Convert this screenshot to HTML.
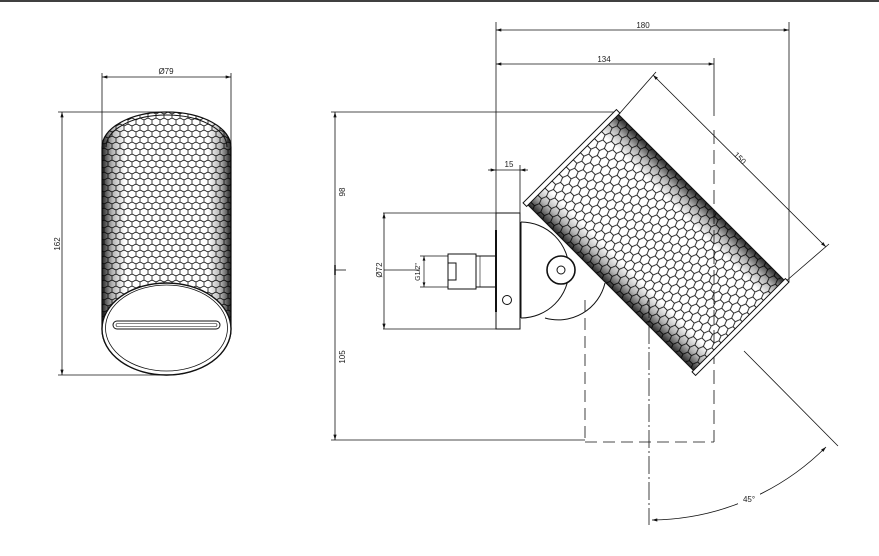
<!DOCTYPE html>
<html><head><meta charset="utf-8"><style>
html,body{margin:0;padding:0;background:#fff;}
svg{display:block;}
text{font-family:"Liberation Sans",sans-serif;font-size:8px;fill:#222;}
</style></head><body>
<svg width="879" height="556" viewBox="0 0 879 556" xmlns="http://www.w3.org/2000/svg">
<defs>
<pattern id="hexL" width="8" height="12" patternUnits="userSpaceOnUse">
<path d="M0,0 L4,-2 L8,0 M0,0 V4 L4,6 L8,4 V0 M4,6 V10 L0,12 M4,10 L8,12" fill="none" stroke="#111" stroke-width="0.8"/>
</pattern>
<pattern id="hexR" width="10" height="14" patternUnits="userSpaceOnUse" patternTransform="rotate(90)">
<path d="M0,0 L5,-2 L10,0 M0,0 V5 L5,7 L10,5 V0 M5,7 V12 L0,14 M5,12 L10,14" fill="none" stroke="#111" stroke-width="0.9"/>
</pattern>
<linearGradient id="edgeL" x1="0" y1="0" x2="1" y2="0">
<stop offset="0" stop-color="#000" stop-opacity="0.85"/>
<stop offset="0.08" stop-color="#000" stop-opacity="0.3"/>
<stop offset="0.18" stop-color="#000" stop-opacity="0"/>
<stop offset="0.82" stop-color="#000" stop-opacity="0"/>
<stop offset="0.92" stop-color="#000" stop-opacity="0.3"/>
<stop offset="1" stop-color="#000" stop-opacity="0.85"/>
</linearGradient>
<linearGradient id="edgeR" x1="0" y1="0" x2="0" y2="1">
<stop offset="0" stop-color="#000" stop-opacity="0.85"/>
<stop offset="0.1" stop-color="#000" stop-opacity="0.3"/>
<stop offset="0.2" stop-color="#000" stop-opacity="0"/>
<stop offset="0.8" stop-color="#000" stop-opacity="0"/>
<stop offset="0.9" stop-color="#000" stop-opacity="0.3"/>
<stop offset="1" stop-color="#000" stop-opacity="0.85"/>
</linearGradient>
<marker id="ar" viewBox="0 0 10 6" refX="10" refY="3" markerWidth="8" markerHeight="4" orient="auto-start-reverse"><path d="M0,0 L10,3 L0,6 Z" fill="#111"/></marker>
</defs>
<line x1="0" y1="1" x2="879" y2="1" stroke="#000" stroke-width="1.5"/>

<!-- LEFT VIEW -->
<g stroke="#111" stroke-width="0.8" fill="none">
<line x1="102" y1="73" x2="102" y2="150"/>
<line x1="231" y1="73" x2="231" y2="150"/>
<line x1="102" y1="77" x2="231" y2="77" marker-start="url(#ar)" marker-end="url(#ar)"/>
<line x1="58" y1="112" x2="166" y2="112"/>
<line x1="58" y1="375" x2="166" y2="375"/>
<line x1="62" y1="112" x2="62" y2="375" marker-start="url(#ar)" marker-end="url(#ar)"/>
</g>
<text x="166" y="74" text-anchor="middle">Ø79</text>
<text transform="translate(60,244) rotate(-90)" text-anchor="middle">162</text>
<path d="M102,147 A64.5,35 0 0 1 231,147 L231,329 A64.5,46 0 0 1 102,329 Z" fill="url(#hexL)" stroke="#111" stroke-width="1.2"/>
<path d="M102,147 A64.5,35 0 0 1 231,147 L231,329 A64.5,46 0 0 1 102,329 Z" fill="url(#edgeL)"/>
<path d="M106,147 A60.5,32 0 0 1 227,147" fill="none" stroke="#111" stroke-width="1"/>
<ellipse cx="166.5" cy="329" rx="64.5" ry="46" fill="#fff" stroke="#111" stroke-width="1.4"/>
<ellipse cx="166.5" cy="328" rx="61" ry="43" fill="none" stroke="#111" stroke-width="0.8"/>
<rect x="113" y="321" width="107" height="8" rx="4" fill="#fff" stroke="#111" stroke-width="1"/>
<rect x="116" y="323.5" width="101" height="3" rx="1.5" fill="none" stroke="#111" stroke-width="0.6"/>

<!-- RIGHT VIEW dims -->
<g stroke="#111" stroke-width="0.8" fill="none">
<line x1="331" y1="112" x2="618" y2="112"/>
<line x1="331" y1="440" x2="585" y2="440"/>
<line x1="335" y1="112" x2="335" y2="440" marker-start="url(#ar)" marker-end="url(#ar)"/>
<line x1="335" y1="265" x2="335" y2="275" stroke-width="1.5"/>
<line x1="335" y1="270" x2="346" y2="270"/>
<line x1="383" y1="213" x2="496" y2="213"/>
<line x1="383" y1="329" x2="496" y2="329"/>
<line x1="384" y1="213" x2="384" y2="329" marker-start="url(#ar)" marker-end="url(#ar)"/>
<line x1="384" y1="270" x2="420" y2="270"/>
<line x1="496" y1="22" x2="496" y2="213"/>
<line x1="789" y1="22" x2="789" y2="282"/>
<line x1="496" y1="30" x2="789" y2="30" marker-start="url(#ar)" marker-end="url(#ar)"/>
<line x1="714" y1="58" x2="714" y2="116"/>
<line x1="496" y1="64" x2="714" y2="64" marker-start="url(#ar)" marker-end="url(#ar)"/>
<line x1="714" y1="130" x2="714" y2="442" stroke-dasharray="14,6"/>
<line x1="520" y1="165" x2="520" y2="213"/>
<line x1="488" y1="170" x2="496" y2="170" marker-end="url(#ar)"/>
<line x1="528" y1="170" x2="520" y2="170" marker-end="url(#ar)"/>
<line x1="496" y1="170" x2="520" y2="170"/>
<line x1="585" y1="300" x2="585" y2="442" stroke-dasharray="12,6"/>
<line x1="585" y1="442" x2="714" y2="442" stroke-dasharray="12,6"/>
<line x1="649" y1="300" x2="649" y2="525" stroke-dasharray="18,3,2,3"/>
<line x1="744" y1="351" x2="838" y2="446"/>
<path d="M652,520 A250,250 0 0 0 826,447" marker-start="url(#ar)" marker-end="url(#ar)"/>
<line x1="620" y1="113" x2="656" y2="72"/>
<line x1="785" y1="282" x2="829" y2="244"/>
<line x1="653" y1="75" x2="826" y2="247" marker-start="url(#ar)" marker-end="url(#ar)"/>
</g>
<rect x="738" y="493" width="22" height="11" fill="#fff"/>
<text x="749" y="502" text-anchor="middle">45°</text>
<text x="643" y="28" text-anchor="middle">180</text>
<text x="604" y="62" text-anchor="middle">134</text>
<text x="509" y="167" text-anchor="middle">15</text>
<text transform="translate(345,192) rotate(-90)" text-anchor="middle">98</text>
<text transform="translate(345,357) rotate(-90)" text-anchor="middle">105</text>
<text transform="translate(382,270) rotate(-90)" text-anchor="middle">Ø72</text>
<text transform="translate(420,272) rotate(-90)" text-anchor="middle" style="font-size:7px">G1/2"</text>
<text transform="translate(738,160) rotate(45)" text-anchor="middle">150</text>

<!-- fitting -->
<g stroke="#111" stroke-width="1" fill="#fff">
<line x1="424" y1="256" x2="424" y2="287" stroke-width="0.7" marker-start="url(#ar)" marker-end="url(#ar)"/>
<line x1="420" y1="256" x2="448" y2="256" stroke-width="0.7"/>
<line x1="420" y1="287" x2="448" y2="287" stroke-width="0.7"/>
<rect x="448" y="254" width="28" height="35"/>
<rect x="448" y="263" width="8" height="17"/>
<rect x="476" y="256" width="20" height="31"/>
<line x1="480" y1="256" x2="480" y2="287" stroke-width="0.6"/>
<rect x="496" y="213" width="24" height="116"/>
<line x1="496" y1="230" x2="496" y2="312" stroke-width="2"/>
<circle cx="507" cy="300" r="4.5"/>
<path d="M545,318 A48,48 0 0 0 605,283" fill="none"/>
<path d="M521,222 A48,48 0 0 1 521,318" />
<line x1="521" y1="222" x2="521" y2="318"/>
<circle cx="561" cy="270" r="14" stroke-width="1.6"/>
<circle cx="561" cy="270" r="4"/>
</g>

<!-- rotated cylinder -->
<g transform="translate(656,242.5) rotate(45)">
<rect x="-118" y="-64" width="236" height="128" fill="url(#hexR)"/>
<rect x="-118" y="-64" width="236" height="128" fill="url(#edgeR)"/>
<line x1="-118" y1="-64" x2="118" y2="-64" stroke="#111" stroke-width="1"/>
<line x1="-118" y1="64" x2="118" y2="64" stroke="#111" stroke-width="1"/>
<rect x="-122" y="-66" width="5" height="132" fill="#fff" stroke="#111" stroke-width="1"/>
<rect x="117" y="-66" width="5" height="132" fill="#fff" stroke="#111" stroke-width="1"/>
</g>
</svg>
</body></html>
